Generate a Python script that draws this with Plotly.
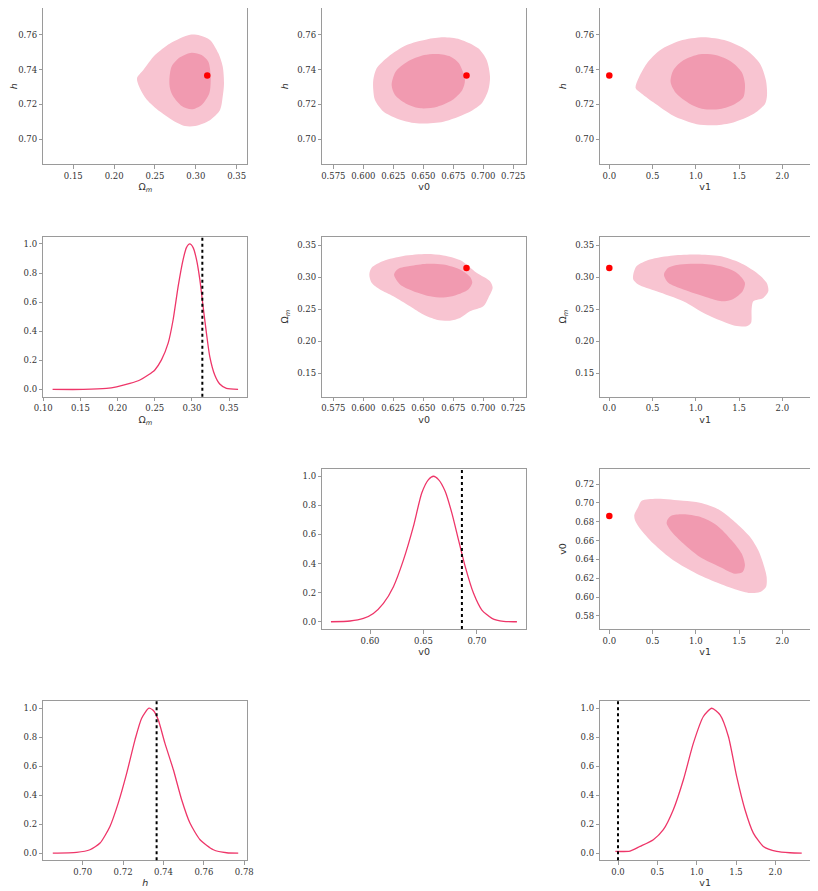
"""
    Triangle plot of the posterior for Omega_m, h, v0 and v1.
    68% / 95% credible regions, normalised 1D marginals, truth marked in red / dotted.
"""

import plotly.graph_objects as go

# truth values
TRUTH_OM = 0.314
TRUTH_H = 0.7366
TRUTH_V0 = 0.686
TRUTH_V1 = 0.0

# ---- 2D credible regions (outer = 95%, inner = 68%) ----
OM_H_OUTER_X = [0.228, 0.2357, 0.250, 0.2684, 0.2929, 0.305, 0.3173, 0.3276, 0.3329, 0.3345,
                0.3329, 0.3296, 0.3173, 0.299, 0.2867, 0.2724, 0.2561, 0.2398, 0.2316]
OM_H_OUTER_Y = [0.735, 0.7397, 0.7483, 0.755, 0.760, 0.7596, 0.757, 0.7493, 0.7417, 0.732,
                0.7245, 0.7168, 0.711, 0.7076, 0.7076, 0.7107, 0.7159, 0.7229, 0.7292]
OM_H_INNER_X = [0.2676, 0.2704, 0.2806, 0.2949, 0.3071, 0.3153, 0.3182, 0.3165, 0.3071, 0.2949,
                0.2827, 0.2724, 0.2684]
OM_H_INNER_Y = [0.734, 0.7417, 0.747, 0.7497, 0.7483, 0.7445, 0.7359, 0.7264, 0.7197, 0.7172,
                0.7191, 0.7245, 0.7292]

V0_H_OUTER_X = [0.6083, 0.6111, 0.6208, 0.6361, 0.6528, 0.6667, 0.6806, 0.6958, 0.7028, 0.7056,
                0.7042, 0.6986, 0.6861, 0.6667, 0.6444, 0.6278, 0.6167, 0.6097, 0.6083]
V0_H_OUTER_Y = [0.734, 0.7407, 0.7474, 0.7541, 0.7573, 0.7585, 0.7573, 0.7522, 0.7455, 0.7359,
                0.7283, 0.7206, 0.7149, 0.7101, 0.7092, 0.712, 0.7159, 0.7225, 0.7283]
V0_H_INNER_X = [0.6236, 0.6269, 0.6367, 0.6506, 0.6617, 0.6728, 0.6797, 0.6847, 0.6825, 0.6742,
                0.6617, 0.6478, 0.6353, 0.6264]
V0_H_INNER_Y = [0.7311, 0.7388, 0.7445, 0.7483, 0.7489, 0.7474, 0.7436, 0.734, 0.7283, 0.7225,
                0.7187, 0.7178, 0.7206, 0.7254]

V1_H_OUTER_X = [0.304, 0.335, 0.432, 0.586, 0.817, 1.087, 1.356, 1.588, 1.742, 1.811,
                1.823, 1.800, 1.665, 1.433, 1.222, 1.010, 0.740, 0.509, 0.354]
V1_H_OUTER_Y = [0.7295, 0.7347, 0.7434, 0.7511, 0.7565, 0.7585, 0.7565, 0.7511, 0.7434, 0.7338,
                0.7251, 0.7203, 0.7145, 0.7097, 0.7081, 0.7087, 0.7135, 0.7212, 0.727]
V1_H_INNER_X = [0.709, 0.740, 0.856, 1.048, 1.241, 1.414, 1.530, 1.568, 1.549, 1.453,
                1.279, 1.087, 0.933, 0.778]
V1_H_INNER_Y = [0.7328, 0.7396, 0.7453, 0.7488, 0.7482, 0.7444, 0.7386, 0.7318, 0.7241, 0.7203,
                0.7174, 0.7174, 0.7203, 0.7261]

V0_OM_OUTER_X = [0.605, 0.6069, 0.6167, 0.6333, 0.6528, 0.6667, 0.6806, 0.6944, 0.7056, 0.7078,
                 0.7042, 0.700, 0.6889, 0.6806, 0.6722, 0.6611, 0.650, 0.6389, 0.625, 0.6139, 0.6069]
V0_OM_OUTER_Y = [0.304, 0.3145, 0.325, 0.3328, 0.3359, 0.3338, 0.3265, 0.3067, 0.2936, 0.2832,
                 0.2675, 0.2544, 0.2466, 0.2362, 0.232, 0.2335, 0.2414, 0.2544, 0.2701, 0.2805, 0.291]
V0_OM_INNER_X = [0.6256, 0.6292, 0.6389, 0.6528, 0.6667, 0.6806, 0.6889, 0.6908, 0.6875, 0.6764,
                 0.6667, 0.6556, 0.6417, 0.6306]
V0_OM_INNER_Y = [0.304, 0.3129, 0.3171, 0.3208, 0.3197, 0.3119, 0.3004, 0.291, 0.2805, 0.2712,
                 0.268, 0.2701, 0.278, 0.2884]

V1_OM_OUTER_X = [0.277, 0.316, 0.470, 0.740, 1.010, 1.279, 1.511, 1.703, 1.819, 1.838, 1.780,
                 1.665, 1.645, 1.638, 1.588, 1.453, 1.356, 1.125, 0.855, 0.547, 0.335, 0.277]
V1_OM_OUTER_Y = [0.304, 0.3171, 0.3275, 0.3338, 0.3354, 0.3328, 0.3223, 0.3067, 0.291, 0.2779, 0.2675,
                 0.2623, 0.2492, 0.2283, 0.2231, 0.2242, 0.2283, 0.2414, 0.2623, 0.2779, 0.2884, 0.2962]
V1_OM_INNER_X = [0.632, 0.682, 0.817, 1.048, 1.279, 1.472, 1.568, 1.541, 1.434, 1.299,
                 1.125, 0.856, 0.682]
V1_OM_INNER_Y = [0.304, 0.3145, 0.3197, 0.3208, 0.3171, 0.3067, 0.291, 0.2779, 0.2659, 0.2623,
                 0.2685, 0.2805, 0.291]

V1_V0_OUTER_X = [0.289, 0.335, 0.374, 0.547, 0.855, 1.048, 1.279, 1.472, 1.626, 1.722, 1.780,
                 1.819, 1.811, 1.742, 1.626, 1.472, 1.279, 1.010, 0.740, 0.509, 0.354, 0.297]
V1_V0_OUTER_Y = [0.687, 0.6958, 0.7022, 0.7044, 0.7022, 0.7001, 0.6923, 0.6781, 0.6639, 0.6496, 0.6354,
                 0.6212, 0.6106, 0.6052, 0.6042, 0.6077, 0.6141, 0.6248, 0.639, 0.6568, 0.6728, 0.6816]
V1_V0_INNER_X = [0.674, 0.721, 0.856, 1.048, 1.241, 1.414, 1.530, 1.568, 1.541, 1.453,
                 1.279, 1.048, 0.856, 0.721, 0.663]
V1_V0_INNER_Y = [0.6823, 0.6866, 0.688, 0.6852, 0.6763, 0.6603, 0.6461, 0.6337, 0.6266, 0.6248,
                 0.6319, 0.6425, 0.6568, 0.6692, 0.6781]

# ---- 1D marginals (normalised to peak) ----
OM_GRID = [0.1125, 0.1538, 0.1851, 0.1986, 0.2165, 0.230, 0.2411, 0.2501, 0.259, 0.268, 0.2747,
           0.2815, 0.2882, 0.2926, 0.2971, 0.3016, 0.3061, 0.3106, 0.315, 0.3195, 0.324, 0.3307,
           0.3374, 0.3464, 0.3621]
OM_PDF = [0.0, 0.0, 0.007, 0.018, 0.041, 0.065, 0.099, 0.134, 0.203, 0.318, 0.479,
          0.710, 0.894, 0.975, 1.0, 0.975, 0.894, 0.756, 0.571, 0.387, 0.226, 0.099,
          0.037, 0.007, 0.0]

V0_GRID = [0.5634, 0.5813, 0.5938, 0.6031, 0.6125, 0.6219, 0.6313, 0.6406, 0.6484, 0.6547, 0.6594,
           0.6641, 0.6703, 0.6766, 0.6828, 0.6891, 0.6969, 0.7047, 0.7141, 0.725, 0.7375]
V0_PDF = [0.0, 0.005, 0.023, 0.057, 0.126, 0.241, 0.425, 0.655, 0.885, 0.977, 1.0,
          0.977, 0.897, 0.747, 0.563, 0.379, 0.195, 0.080, 0.023, 0.002, 0.0]

H_GRID = [0.6852, 0.697, 0.7036, 0.7086, 0.7135, 0.7176, 0.7218, 0.7259, 0.7292, 0.7328, 0.735,
          0.7374, 0.7407, 0.7449, 0.749, 0.7531, 0.7581, 0.7647, 0.7713, 0.777]
H_PDF = [0.0, 0.005, 0.023, 0.069, 0.184, 0.345, 0.552, 0.782, 0.931, 1.0, 0.984,
         0.920, 0.759, 0.575, 0.368, 0.207, 0.092, 0.023, 0.002, 0.0]

V1_GRID = [-0.034, 0.153, 0.280, 0.449, 0.576, 0.703, 0.831, 0.958, 1.085, 1.191, 1.297,
           1.403, 1.508, 1.614, 1.720, 1.847, 2.017, 2.186, 2.335]
V1_PDF = [0.011, 0.014, 0.046, 0.092, 0.161, 0.299, 0.506, 0.759, 0.943, 1.0, 0.954,
          0.805, 0.529, 0.299, 0.138, 0.046, 0.011, 0.002, 0.0]

OUTER_COLOR = "#f8c4d1"
INNER_COLOR = "#f19ab0"
LINE_COLOR = "#ee3669"
AXIS_COLOR = "#9a9a9a"
TEXT_COLOR = "#333333"
FONT = "DejaVu Serif"

# the page body has an 8px margin, so the figure is a bit smaller than the window
PAGE_PAD = 8
W, H = 818 - PAGE_PAD, 891 - PAGE_PAD
# panel boxes in window pixels: (left, right), (top, bottom)
# (top row starts at the page margin; its h range is trimmed to match)
COLS = [(43.3, 247.3), (322.3, 526.0), (600.3, 810.0)]
ROWS = [(8.0, 164.3), (236.7, 396.7), (469.0, 629.0), (701.0, 860.3)]

OM_LABEL = "Ω<sub><i>m</i></sub>"
H_LABEL = "<i>h</i>"

fig = go.Figure()


def add_axes(k, row, col, xr, yr, xtitle, ytitle, xdtick, xfmt, ydtick, yfmt):
    (l, r), (t, b) = COLS[col], ROWS[row]
    l, r, t, b = l - PAGE_PAD, r - PAGE_PAD, t - PAGE_PAD, b - PAGE_PAD
    common = dict(
        showline=True, mirror=True, linecolor=AXIS_COLOR, linewidth=1,
        ticks="outside", ticklen=3.5, tickcolor=AXIS_COLOR, tickwidth=1,
        showgrid=False, zeroline=False, automargin=False, tickangle=0,
        tickfont=dict(family=FONT, size=8.5, color=TEXT_COLOR),
    )
    title_font = dict(family="DejaVu Sans", size=9.5, color=TEXT_COLOR)
    sfx = "" if k == 1 else str(k)
    xa = dict(common, domain=[max(l / W, 0), min(r / W, 1)], anchor="y" + sfx, range=xr,
              dtick=xdtick, tickformat=xfmt)
    xa["title"] = dict(text=xtitle, standoff=3, font=title_font)
    ya = dict(common, domain=[max(1 - b / H, 0), min(1 - t / H, 1)], anchor="x" + sfx,
              range=yr, dtick=ydtick, tickformat=yfmt)
    if ytitle:
        ya["title"] = dict(text=ytitle, standoff=6, font=title_font)
    fig.layout["xaxis" + sfx] = xa
    fig.layout["yaxis" + sfx] = ya
    return ("x" + sfx, "y" + sfx)


def contour_panel(ax, outer_x, outer_y, inner_x, inner_y, tx, ty):
    xa, ya = ax
    for px, py, c in [(outer_x, outer_y, OUTER_COLOR), (inner_x, inner_y, INNER_COLOR)]:
        fig.add_trace(go.Scatter(
            x=px + px[:1], y=py + py[:1], xaxis=xa, yaxis=ya,
            mode="lines", fill="toself", fillcolor=c,
            line=dict(width=0, color=c, shape="spline", smoothing=0.8),
            hoverinfo="skip", showlegend=False,
        ))
    fig.add_trace(go.Scatter(
        x=[tx], y=[ty], xaxis=xa, yaxis=ya, mode="markers",
        marker=dict(color="#ff0000", size=6.5), showlegend=False,
    ))


def marginal_panel(ax, grid, pdf, truth):
    xa, ya = ax
    fig.add_trace(go.Scatter(
        x=grid, y=pdf, xaxis=xa, yaxis=ya, mode="lines",
        line=dict(color=LINE_COLOR, width=1.3, shape="spline", smoothing=0.6),
        showlegend=False,
    ))
    fig.add_shape(type="line", xref=xa, yref=ya + " domain", x0=truth, x1=truth, y0=0, y1=1,
                  line=dict(color="black", width=2, dash="dot"))


H_RANGE = [0.6857, 0.7753]
OM_RANGE = [0.1133, 0.363]
V0_RANGE = [0.5658, 0.7356]
V1_RANGE = [-0.104, 2.32]
PDF_RANGE = [-0.05, 1.05]

ax = add_axes(1, 0, 0, OM_RANGE, H_RANGE, OM_LABEL, H_LABEL, 0.05, ".2f", 0.02, ".2f")
contour_panel(ax, OM_H_OUTER_X, OM_H_OUTER_Y, OM_H_INNER_X, OM_H_INNER_Y, TRUTH_OM, TRUTH_H)

ax = add_axes(2, 0, 1, V0_RANGE, H_RANGE, "v0", H_LABEL, 0.025, ".3f", 0.02, ".2f")
contour_panel(ax, V0_H_OUTER_X, V0_H_OUTER_Y, V0_H_INNER_X, V0_H_INNER_Y, TRUTH_V0, TRUTH_H)

ax = add_axes(3, 0, 2, V1_RANGE, H_RANGE, "v1", H_LABEL, 0.5, ".1f", 0.02, ".2f")
contour_panel(ax, V1_H_OUTER_X, V1_H_OUTER_Y, V1_H_INNER_X, V1_H_INNER_Y, TRUTH_V1, TRUTH_H)

ax = add_axes(4, 1, 0, [0.100, 0.3745], PDF_RANGE, OM_LABEL, "", 0.05, ".2f", 0.2, ".1f")
marginal_panel(ax, OM_GRID, OM_PDF, TRUTH_OM)

ax = add_axes(5, 1, 1, V0_RANGE, OM_RANGE, "v0", OM_LABEL, 0.025, ".3f", 0.05, ".2f")
contour_panel(ax, V0_OM_OUTER_X, V0_OM_OUTER_Y, V0_OM_INNER_X, V0_OM_INNER_Y, TRUTH_V0, TRUTH_OM)

ax = add_axes(6, 1, 2, V1_RANGE, OM_RANGE, "v1", OM_LABEL, 0.5, ".1f", 0.05, ".2f")
contour_panel(ax, V1_OM_OUTER_X, V1_OM_OUTER_Y, V1_OM_INNER_X, V1_OM_INNER_Y, TRUTH_V1, TRUTH_OM)

ax = add_axes(7, 2, 1, [0.5553, 0.746], PDF_RANGE, "v0", "", 0.05, ".2f", 0.2, ".1f")
marginal_panel(ax, V0_GRID, V0_PDF, TRUTH_V0)

ax = add_axes(8, 2, 2, V1_RANGE, [0.566, 0.736], "v1", "v0", 0.5, ".1f", 0.02, ".2f")
contour_panel(ax, V1_V0_OUTER_X, V1_V0_OUTER_Y, V1_V0_INNER_X, V1_V0_INNER_Y, TRUTH_V1, TRUTH_V0)

ax = add_axes(9, 3, 0, [0.6805, 0.7815], PDF_RANGE, H_LABEL, "", 0.02, ".2f", 0.2, ".1f")
marginal_panel(ax, H_GRID, H_PDF, TRUTH_H)

ax = add_axes(10, 3, 2, [-0.225, 2.44], PDF_RANGE, "v1", "", 0.5, ".1f", 0.2, ".1f")
marginal_panel(ax, V1_GRID, V1_PDF, TRUTH_V1)

fig.update_layout(
    width=W, height=H,
    margin=dict(l=0, r=0, t=0, b=0),
    plot_bgcolor="white", paper_bgcolor="white",
    font=dict(family=FONT, size=9, color=TEXT_COLOR),
    showlegend=False,
)

fig.write_html("out.html")
